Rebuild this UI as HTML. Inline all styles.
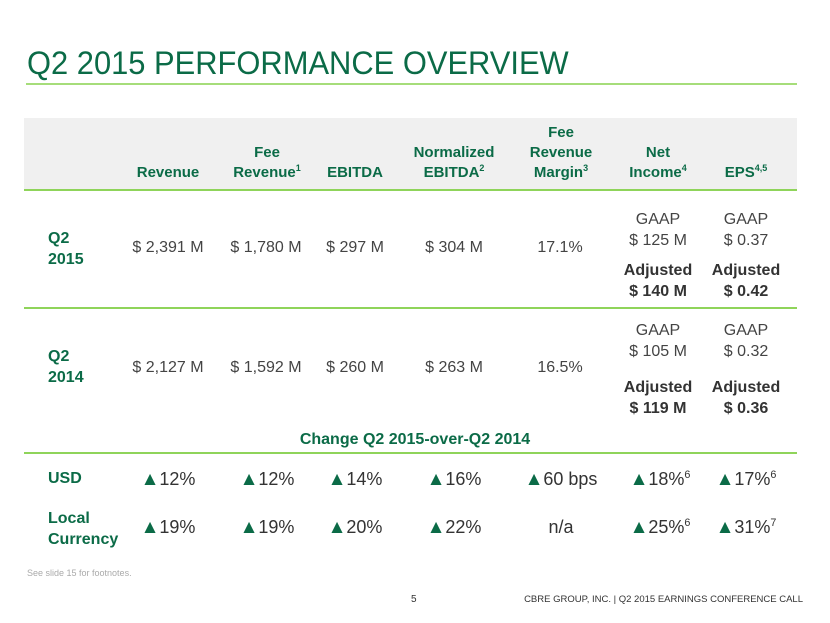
<!DOCTYPE html>
<html><head><meta charset="utf-8"><style>
body{margin:0;width:830px;height:623px;position:relative;background:#fff;font-family:"Liberation Sans",Arial,sans-serif;overflow:hidden}
.t{position:absolute;line-height:20px;height:20px;white-space:nowrap;text-align:center;transform:translateX(-50%)}
.h{color:#0b6b47;font-weight:bold;font-size:15px}
.v{color:#444;font-size:16px}
.b{color:#333;font-weight:bold;font-size:16px}
.g{color:#0b6b47;font-weight:bold;font-size:16px}
.l{position:absolute;left:24px;width:773px;height:2px;background:#8fd45a}
.up{color:#0b6b47;font-size:19px}
.c{color:#333;font-size:18px}
sup{font-size:60%;line-height:0}
</style></head><body>
<div style="position:absolute;left:27px;top:45px;font-size:32px;color:#0b6b47;white-space:nowrap;transform:scaleX(0.965);transform-origin:left">Q2 2015 PERFORMANCE OVERVIEW</div>
<div style="position:absolute;left:26px;top:83px;width:771px;height:2px;background:#a6dd7a"></div>
<div style="position:absolute;left:24px;top:118px;width:773px;height:72px;background:#f0f0f0"></div>
<div class="l" style="top:189px"></div>
<div class="l" style="top:307px"></div>
<div class="l" style="top:452px"></div>

<div class="t h" style="left:168px;top:163px">Revenue</div>
<div class="t h" style="left:267px;top:143px;height:40px">Fee<br>Revenue<sup>1</sup></div>
<div class="t h" style="left:355px;top:163px">EBITDA</div>
<div class="t h" style="left:454px;top:143px;height:40px">Normalized<br>EBITDA<sup>2</sup></div>
<div class="t h" style="left:561px;top:123px;height:60px">Fee<br>Revenue<br>Margin<sup>3</sup></div>
<div class="t h" style="left:658px;top:143px;height:40px">Net<br>Income<sup>4</sup></div>
<div class="t h" style="left:746px;top:163px">EPS<sup>4,5</sup></div>

<div class="g" style="position:absolute;left:48px;top:228px;line-height:21px">Q2<br>2015</div>
<div class="t v" style="left:168px;top:238px">$ 2,391 M</div>
<div class="t v" style="left:266px;top:238px">$ 1,780 M</div>
<div class="t v" style="left:355px;top:238px">$ 297 M</div>
<div class="t v" style="left:454px;top:238px">$ 304 M</div>
<div class="t v" style="left:560px;top:238px">17.1%</div>
<div class="t v" style="left:658px;top:209px;height:42px;line-height:21px">GAAP<br>$ 125 M</div>
<div class="t v" style="left:746px;top:209px;height:42px;line-height:21px">GAAP<br>$ 0.37</div>
<div class="t b" style="left:658px;top:260px;height:42px;line-height:21px">Adjusted<br>$ 140 M</div>
<div class="t b" style="left:746px;top:260px;height:42px;line-height:21px">Adjusted<br>$ 0.42</div>

<div class="g" style="position:absolute;left:48px;top:346px;line-height:21px">Q2<br>2014</div>
<div class="t v" style="left:168px;top:358px">$ 2,127 M</div>
<div class="t v" style="left:266px;top:358px">$ 1,592 M</div>
<div class="t v" style="left:355px;top:358px">$ 260 M</div>
<div class="t v" style="left:454px;top:358px">$ 263 M</div>
<div class="t v" style="left:560px;top:358px">16.5%</div>
<div class="t v" style="left:658px;top:320px;height:42px;line-height:21px">GAAP<br>$ 105 M</div>
<div class="t v" style="left:746px;top:320px;height:42px;line-height:21px">GAAP<br>$ 0.32</div>
<div class="t b" style="left:658px;top:377px;height:42px;line-height:21px">Adjusted<br>$ 119 M</div>
<div class="t b" style="left:746px;top:377px;height:42px;line-height:21px">Adjusted<br>$ 0.36</div>

<div class="t h" style="left:415px;top:430px;font-size:16px">Change Q2 2015-over-Q2 2014</div>

<div class="g" style="position:absolute;left:48px;top:469px;line-height:20px">USD</div>
<div class="t c" style="left:168px;top:469px"><span class="up">▲</span>12%</div>
<div class="t c" style="left:267px;top:469px"><span class="up">▲</span>12%</div>
<div class="t c" style="left:355px;top:469px"><span class="up">▲</span>14%</div>
<div class="t c" style="left:454px;top:469px"><span class="up">▲</span>16%</div>
<div class="t c" style="left:561px;top:469px"><span class="up">▲</span>60 bps</div>
<div class="t c" style="left:660px;top:469px"><span class="up">▲</span>18%<sup>6</sup></div>
<div class="t c" style="left:746px;top:469px"><span class="up">▲</span>17%<sup>6</sup></div>

<div class="g" style="position:absolute;left:48px;top:508px;line-height:21px">Local<br>Currency</div>
<div class="t c" style="left:168px;top:517px"><span class="up">▲</span>19%</div>
<div class="t c" style="left:267px;top:517px"><span class="up">▲</span>19%</div>
<div class="t c" style="left:355px;top:517px"><span class="up">▲</span>20%</div>
<div class="t c" style="left:454px;top:517px"><span class="up">▲</span>22%</div>
<div class="t c" style="left:561px;top:517px">n/a</div>
<div class="t c" style="left:660px;top:517px"><span class="up">▲</span>25%<sup>6</sup></div>
<div class="t c" style="left:746px;top:517px"><span class="up">▲</span>31%<sup>7</sup></div>

<div style="position:absolute;left:27px;top:568px;font-size:9px;color:#aaa">See slide 15 for footnotes.</div>
<div style="position:absolute;left:411px;top:594px;font-size:10px;color:#333">5</div>
<div style="position:absolute;right:27px;top:594px;font-size:9.5px;color:#333;white-space:nowrap">CBRE GROUP, INC. | Q2 2015 EARNINGS CONFERENCE CALL</div>
</body></html>
